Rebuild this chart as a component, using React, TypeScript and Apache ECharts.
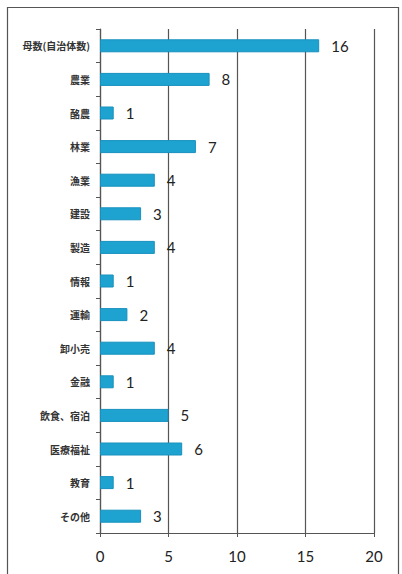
import React, { useEffect, useRef } from "react";
import * as echarts from "echarts";

const categories = [
  "母数(自治体数)",
  "農業",
  "酪農",
  "林業",
  "漁業",
  "建設",
  "製造",
  "情報",
  "運輸",
  "卸小売",
  "金融",
  "飲食、宿泊",
  "医療福祉",
  "教育",
  "その他",
];
const values = [16, 8, 1, 7, 4, 3, 4, 1, 2, 4, 1, 5, 6, 1, 3];
const xTicks = [0, 5, 10, 15, 20];

export default function App() {
  const ref = useRef<HTMLDivElement>(null);
  useEffect(() => {
    document.body.style.margin = "0";
    if (!ref.current) return;
    const chart = echarts.init(ref.current, undefined, { renderer: "svg" });
    chart.setOption({
      animation: false,
      backgroundColor: "#ffffff",
      graphic: [
        {
          type: "rect",
          shape: { x: 7.5, y: 7.5, width: 391, height: 600 },
          style: { fill: "none", stroke: "#555", lineWidth: 1.2 },
          silent: true,
          z: -1,
        },
      ],
      grid: { left: 100, right: 28, top: 29, bottom: 41, containLabel: false },
      xAxis: {
        type: "value",
        min: xTicks[0],
        max: xTicks[xTicks.length - 1],
        interval: 5,
        axisLine: { show: true, lineStyle: { color: "#555", width: 1.2 } },
        axisTick: { show: true, length: 4, lineStyle: { color: "#555" } },
        axisLabel: {
          fontSize: 15,
          color: "#222",
          margin: 15,
          fontFamily: "Lato, 'Open Sans', sans-serif",
        },
        splitLine: { show: true, lineStyle: { color: "#555", width: 1.2 } },
      },
      yAxis: {
        type: "category",
        data: categories,
        inverse: true,
        axisLine: { show: true, lineStyle: { color: "#555", width: 1.2 } },
        axisTick: { show: true, length: 4, lineStyle: { color: "#555" } },
        axisLabel: {
          fontSize: 10,
          color: "#333",
          fontWeight: "bold",
          margin: 10,
          fontFamily: "'Noto Sans CJK JP', sans-serif",
        },
      },
      series: [
        {
          type: "bar",
          data: values,
          barWidth: 13,
          itemStyle: { color: "#1ea3d0", borderColor: "#1890bd", borderWidth: 1 },
          label: {
            show: true,
            position: "right",
            distance: 12,
            fontSize: 15,
            color: "#222",
            fontFamily: "Lato, 'Open Sans', sans-serif",
          },
        },
      ],
    });
    return () => chart.dispose();
  }, []);
  return <div ref={ref} style={{ width: 402, height: 574 }} />;
}
